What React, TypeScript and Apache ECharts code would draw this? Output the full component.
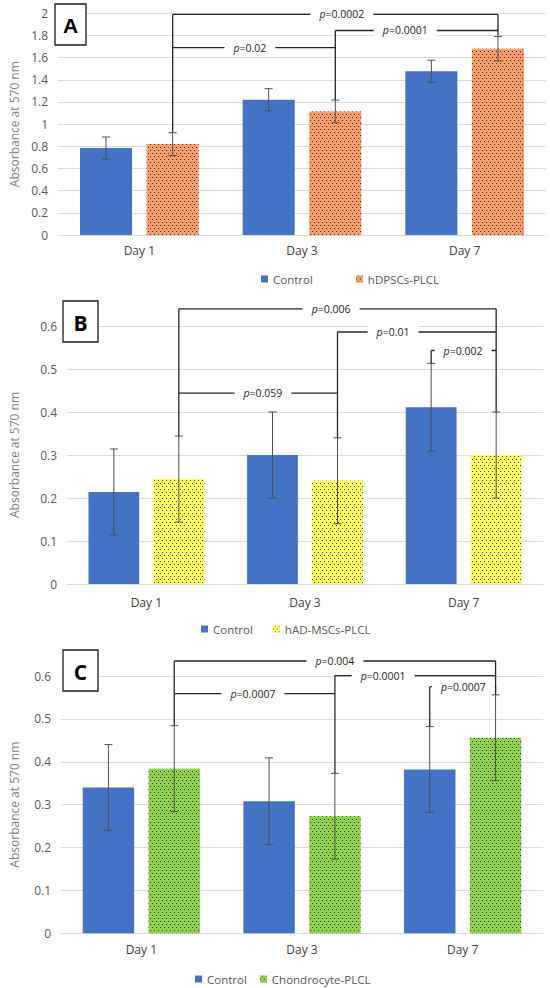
import React, { useEffect, useRef } from 'react';
import * as echarts from 'echarts';

const categories = ['Day 1', 'Day 3', 'Day 7'];

const controlA = [0.784, 1.22, 1.477];
const controlAErr = [0.1, 0.1, 0.1];
const hdpscA = [0.82, 1.115, 1.68];
const hdpscAErr = [0.103, 0.102, 0.11];

const controlB = [0.214, 0.3, 0.411];
const controlBErr = [0.1, 0.1, 0.102];
const hadB = [0.244, 0.24, 0.3];
const hadBErr = [0.1, 0.1, 0.1];

const controlC = [0.34, 0.308, 0.382];
const controlCErr = [0.1, 0.101, 0.1];
const chondroC = [0.384, 0.273, 0.456];
const chondroCErr = [0.1, 0.1, 0.1];

const legendA = ['Control', 'hDPSCs-PLCL'];
const legendB = ['Control', 'hAD-MSCs-PLCL'];
const legendC = ['Control', 'Chondrocyte-PLCL'];

// side: -1 = Control bar, 1 = treated bar
const bracketsA = [
  { from: [0, 1], to: [2, 1], level: 1.99, leftEnd: 0.93, rightEnd: 1.8, p: '0.0002', pos: 0.52 },
  { from: [1, 1], to: [2, 1], level: 1.845, leftEnd: 1.217, rightEnd: null, p: '0.0001', pos: 0.43 },
  { from: [0, 1], to: [1, 1], level: 1.69, leftEnd: null, rightEnd: null, p: '0.02', pos: 0.475 },
];
const bracketsB = [
  { from: [0, 1], to: [2, 1], level: 0.64, leftEnd: 0.344, rightEnd: 0.4, p: '0.006', pos: 0.48 },
  { from: [1, 1], to: [2, 1], level: 0.586, leftEnd: 0.34, rightEnd: null, p: '0.01', pos: 0.35 },
  { from: [0, 1], to: [1, 1], level: 0.444, leftEnd: null, rightEnd: null, p: '0.059', pos: 0.53 },
  { from: [2, -1], to: [2, 1], level: 0.543, leftEnd: 0.513, rightEnd: null, p: '0.002', pos: 0.49 },
];
const bracketsC = [
  { from: [0, 1], to: [2, 1], level: 0.635, leftEnd: 0.484, rightEnd: 0.556, p: '0.004', pos: 0.5 },
  { from: [1, 1], to: [2, 1], level: 0.601, leftEnd: 0.373, rightEnd: null, p: '0.0001', pos: 0.3 },
  { from: [0, 1], to: [1, 1], level: 0.559, leftEnd: null, rightEnd: null, p: '0.0007', pos: 0.49 },
  { from: [2, -1], to: [2, 1], level: 0.575, leftEnd: 0.482, rightEnd: 0.565, p: '0.0007', pos: 0.51 },
];

const FONT = "'Open Sans', 'Noto Sans', sans-serif";
const BAR_WIDTH = 0.32;
const BAR_GAP = 0.28;
const BAR_OFFSET = (BAR_WIDTH * (1 + BAR_GAP)) / 2;
const BLUE = '#4472C4';

function errorRender(side: number) {
  return (params: any, api: any) => {
    const cat = api.value(0);
    const lo = api.value(1);
    const hi = api.value(2);
    const band = api.size([1, 0])[0];
    const pLo = api.coord([cat, lo]);
    const pHi = api.coord([cat, hi]);
    const x = pLo[0] + side * band * BAR_OFFSET;
    const cap = 4;
    const st = { stroke: '#505050', lineWidth: 1 };
    return {
      type: 'group',
      children: [
        { type: 'line', shape: { x1: x, y1: pLo[1], x2: x, y2: pHi[1] }, style: st },
        { type: 'line', shape: { x1: x - cap, y1: pLo[1], x2: x + cap, y2: pLo[1] }, style: st },
        { type: 'line', shape: { x1: x - cap, y1: pHi[1], x2: x + cap, y2: pHi[1] }, style: st },
      ],
    };
  };
}

function bracketRender(list: any[]) {
  return (params: any, api: any) => {
    const b = list[params.dataIndex];
    const band = api.size([1, 0])[0];
    const off = band * BAR_OFFSET;
    const x1 = api.coord([b.from[0], b.level])[0] + b.from[1] * off;
    const x2 = api.coord([b.to[0], b.level])[0] + b.to[1] * off;
    const y = api.coord([b.from[0], b.level])[1];
    const st = { stroke: '#262626', lineWidth: 1.3 };
    const children: any[] = [
      { type: 'line', shape: { x1, y1: y, x2, y2: y }, style: st },
    ];
    if (b.leftEnd != null) {
      const yl = api.coord([b.from[0], b.leftEnd])[1];
      children.push({ type: 'line', shape: { x1, y1: y, x2: x1, y2: yl }, style: st });
    }
    if (b.rightEnd != null) {
      const yr = api.coord([b.to[0], b.rightEnd])[1];
      children.push({ type: 'line', shape: { x1: x2, y1: y, x2: x2, y2: yr }, style: st });
    }
    const lx = x1 + (x2 - x1) * b.pos;
    children.push({
      type: 'text',
      x: lx,
      y,
      z2: 10,
      style: {
        text: '{i|p}=' + b.p,
        rich: { i: { fontStyle: 'italic', fontSize: 10.5, fontFamily: FONT, fill: '#262626' } },
        fontSize: 10.5,
        fontFamily: FONT,
        fill: '#262626',
        align: 'center',
        verticalAlign: 'middle',
        backgroundColor: '#ffffff',
        padding: [1, 9],
      },
    });
    return { type: 'group', children };
  };
}

function decal() {
  return {
    symbol: 'rect',
    symbolSize: 1,
    color: 'rgba(30,20,10,0.85)',
    dashArrayX: [[1, 3], [0, 2, 1, 1]],
    dashArrayY: [1, 2],
    rotation: 0,
  };
}

export default function App() {
  const ref = useRef<HTMLDivElement>(null);

  useEffect(() => {
    document.body.style.margin = '0';
    const chart = echarts.init(ref.current!, null, { renderer: 'svg' });

    const grids = [
      { left: 52, width: 494, top: 13.3, height: 221.7 },
      { left: 59, width: 484, top: 326, height: 258 },
      { left: 52, width: 491, top: 676, height: 257.3 },
    ];
    const yRanges = [
      { max: 2, interval: 0.2, nameGap: 38 },
      { max: 0.6, interval: 0.1, nameGap: 47 },
      { max: 0.6, interval: 0.1, nameGap: 41 },
    ];
    const xMargins = [9, 12, 10];

    const xAxis = grids.map((_, i) => ({
      type: 'category',
      gridIndex: i,
      data: categories,
      axisLine: { show: true, lineStyle: { color: '#d9d9d9', width: 1 } },
      axisTick: { show: false },
      axisLabel: { color: '#404040', fontSize: 12, fontFamily: FONT, margin: xMargins[i] },
    }));
    const yAxis = grids.map((_, i) => ({
      type: 'value',
      gridIndex: i,
      min: 0,
      max: yRanges[i].max,
      interval: yRanges[i].interval,
      name: 'Absorbance at 570 nm',
      nameLocation: 'middle',
      nameGap: yRanges[i].nameGap,
      nameTextStyle: { color: '#808080', fontSize: 12, fontFamily: FONT },
      axisLine: { show: false },
      axisTick: { show: false },
      axisLabel: { color: '#595959', fontSize: 12, fontFamily: FONT, margin: 10 },
      splitLine: { show: true, lineStyle: { color: '#d9d9d9', width: 1 } },
    }));

    const panels = [
      { ctrl: controlA, ctrlErr: controlAErr, trt: hdpscA, trtErr: hdpscAErr, name: legendA[1], color: '#F89C6B', br: bracketsA },
      { ctrl: controlB, ctrlErr: controlBErr, trt: hadB, trtErr: hadBErr, name: legendB[1], color: '#FFFF5C', br: bracketsB },
      { ctrl: controlC, ctrlErr: controlCErr, trt: chondroC, trtErr: chondroCErr, name: legendC[1], color: '#8FD14F', br: bracketsC },
    ];

    const series: any[] = [];
    panels.forEach((p, i) => {
      series.push({
        type: 'bar',
        name: 'Control',
        xAxisIndex: i,
        yAxisIndex: i,
        data: p.ctrl,
        barWidth: BAR_WIDTH * 100 + '%',
        barGap: BAR_GAP * 100 + '%',
        itemStyle: { color: BLUE },
        z: 2,
      });
      series.push({
        type: 'bar',
        name: p.name,
        xAxisIndex: i,
        yAxisIndex: i,
        data: p.trt,
        barWidth: BAR_WIDTH * 100 + '%',
        barGap: BAR_GAP * 100 + '%',
        itemStyle: { color: p.color, decal: decal() },
        z: 2,
      });
      series.push({
        type: 'custom',
        xAxisIndex: i,
        yAxisIndex: i,
        renderItem: errorRender(-1),
        data: p.ctrl.map((v, k) => [k, v - p.ctrlErr[k], v + p.ctrlErr[k]]),
        encode: { x: 0, y: [1, 2] },
        z: 3,
        silent: true,
      });
      series.push({
        type: 'custom',
        xAxisIndex: i,
        yAxisIndex: i,
        renderItem: errorRender(1),
        data: p.trt.map((v, k) => [k, v - p.trtErr[k], v + p.trtErr[k]]),
        encode: { x: 0, y: [1, 2] },
        z: 3,
        silent: true,
      });
      series.push({
        type: 'custom',
        xAxisIndex: i,
        yAxisIndex: i,
        renderItem: bracketRender(p.br),
        data: p.br.map((b) => [b.from[0], b.level]),
        encode: { x: 0, y: 1 },
        clip: false,
        z: 4,
        silent: true,
      });
    });

    const legendBase = {
      icon: 'rect',
      itemWidth: 7,
      itemHeight: 7,
      textStyle: { color: '#595959', fontSize: 11.5, fontFamily: FONT },
      selectedMode: false,
    };

    const boxes = [
      { x: 55, y: 4, w: 31, h: 41, t: 'A', f: "'Liberation Sans', Arial, sans-serif" },
      { x: 63, y: 301, w: 35, h: 41, t: 'B', f: FONT },
      { x: 63, y: 650, w: 35, h: 41, t: 'C', f: FONT },
    ];
    const graphic: any[] = [];
    boxes.forEach((b) => {
      graphic.push({
        type: 'rect',
        z: 50,
        shape: { x: b.x, y: b.y, width: b.w, height: b.h },
        style: { fill: '#ffffff', stroke: '#1a1a1a', lineWidth: 1.3 },
      });
      graphic.push({
        type: 'text',
        z: 51,
        x: b.x + b.w / 2,
        y: b.y + b.h / 2 + 1,
        style: {
          text: b.t,
          fontSize: 21,
          fontWeight: 'bold',
          fontFamily: b.f,
          fill: '#000',
          align: 'center',
          verticalAlign: 'middle',
        },
      });
    });

    chart.setOption({
      animation: false,
      backgroundColor: '#ffffff',
      grid: grids,
      xAxis,
      yAxis,
      legend: [
        { ...legendBase, data: legendA, left: 256, top: 268, itemGap: 43 },
        { ...legendBase, data: legendB, left: 196, top: 618, itemGap: 20 },
        { ...legendBase, data: legendC, left: 190, top: 968, itemGap: 13 },
      ],
      graphic,
      series,
    });

    return () => chart.dispose();
  }, []);

  return <div ref={ref} style={{ width: 550, height: 988 }} />;
}
